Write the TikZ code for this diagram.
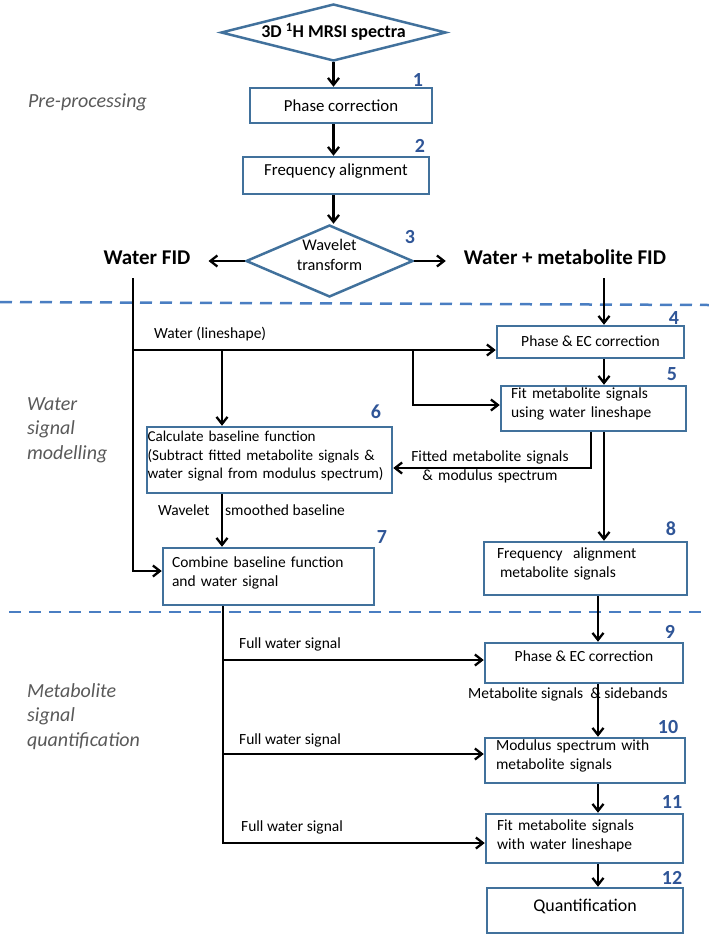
\documentclass[tikz,border=0pt]{standalone}
\usepackage{fontspec}
\setmainfont{Carlito}
\usepackage{xcolor}
\usetikzlibrary{arrows.meta,shapes.geometric}
\definecolor{boxblue}{HTML}{41719C}
\definecolor{numblue}{HTML}{2F5597}
\definecolor{dashblue}{HTML}{4A7EC2}
\definecolor{notegray}{HTML}{595959}

\begin{document}
\begin{tikzpicture}[x=1pt,y=-1pt,line width=2.3pt,>={Straight Barb[length=7pt,width=11pt]},
  box/.style={draw=boxblue,line width=2.5pt,rectangle,inner sep=0pt,font=\fontsize{15.5}{18.5}\selectfont},
  dia/.style={draw=boxblue,line width=2.5pt,diamond,inner sep=0pt},
  num/.style={anchor=base,text=numblue,font=\fontsize{20}{24}\selectfont\bfseries},
  lbl/.style={anchor=base west,inner sep=0pt,font=\fontsize{15.5}{18.5}\selectfont},
  fid/.style={anchor=base,inner xsep=17pt,inner ysep=12pt,font=\fontsize{21}{25}\selectfont\bfseries},
  stage/.style={anchor=base west,inner sep=0pt,text width=140pt,align=left,text=notegray,font=\fontsize{20}{24.5}\selectfont\itshape},
  lift/.style={text height=#1,text depth=0pt},
  drop/.style={text height=0pt,text depth=#1}]
\useasboundingbox (0,0) rectangle (709,938);

\draw[dashblue,line width=2.5pt,dash pattern=on 12pt off 8pt] (0,302) -- (709,305);
\draw[dashblue,line width=2.5pt,dash pattern=on 12pt off 8pt] (9,612) -- (709,612);

\node[dia,aspect=3.9,minimum width=225pt,minimum height=57pt,lift=10.6pt,font=\fontsize{18}{22}\selectfont\bfseries] (d1) at (333.5,32.5) {3D \textsuperscript{1}H MRSI spectra};
  \node[box,minimum width=182pt,minimum height=35pt,lift=11pt,font=\fontsize{16.8}{20}\selectfont] (b1) at (341,105.5) {Phase correction};
  \node[box,minimum width=186pt,minimum height=37pt,drop=1pt,font=\fontsize{16.8}{20}\selectfont] (b2) at (336,175.5) {Frequency alignment};
  \node[dia,aspect=2.3,minimum width=167pt,minimum height=72pt,text width=80pt,align=center,drop=22pt,font=\fontsize{16.3}{20}\selectfont] (d2) at (329.5,261) {Wavelet\\transform};
  \node[fid] (wfid) at (147,264.7) {Water FID};
  \node[fid] (wmfid) at (565,264.7) {Water + metabolite FID};
  \node[box,minimum width=187pt,minimum height=32pt,lift=9.4pt] (b4) at (590.5,342) {Phase \& EC correction};
  \node[box,minimum width=185pt,minimum height=45pt,text width=165pt,align=left,drop=19.6pt] (b5) at (593.5,408.5) {Fit metabolite signals\\using water lineshape};
  \node[box,minimum width=245pt,minimum height=66pt,text width=244pt,align=left,drop=36.6pt,font=\fontsize{15.1}{18.5}\selectfont] (b6) at (269.5,460) {Calculate baseline function\\(Subtract fitted metabolite signals \&\\water signal from modulus spectrum)};
  \node[box,minimum width=211pt,minimum height=57pt,text width=193pt,align=left,drop=17.6pt] (b7) at (268.5,576.5) {Combine baseline function\\and water signal};
  \node[box,minimum width=203pt,minimum height=53pt,text width=177pt,align=left,drop=19.6pt] (b8) at (585.5,568.5) {Frequency\ \ alignment\\\hspace{3pt}metabolite signals};
  \node[box,minimum width=198pt,minimum height=40pt,drop=2.6pt] (b9) at (584,663) {Phase \& EC correction};
  \node[box,minimum width=200pt,minimum height=45pt,text width=178pt,align=left,drop=19.6pt] (b10) at (585,760.5) {Modulus spectrum with\\metabolite signals};
  \node[box,minimum width=197pt,minimum height=49pt,text width=175pt,align=left,drop=15.6pt] (b11) at (584.5,838.5) {Fit metabolite signals\\with water lineshape};
  \node[box,minimum width=196pt,minimum height=45pt,lift=1.8pt,font=\fontsize{17.9}{21}\selectfont] (b12) at (585,910.5) {Quantification};

  \node[num] (n1) at (418,86.5) {1};
  \node[num] (n2) at (420,152.5) {2};
  \node[num] (n3) at (410,243.5) {3};
  \node[num] (n4) at (674,324.5) {4};
  \node[num] (n5) at (672,380.5) {5};
  \node[num] (n6) at (376,418.5) {6};
  \node[num] (n7) at (382,543.5) {7};
  \node[num] (n8) at (671,535.5) {8};
  \node[num] (n9) at (670,638.5) {9};
  \node[num] (n10) at (668,733.5) {10};
  \node[num] (n11) at (672,808.5) {11};
  \node[num] (n12) at (672,884.5) {12};

  \node[stage] (s1) at (27,107) {Pre-processing};
  \node[stage] (s2) at (26,410) {Water\\signal\\modelling};
  \node[stage] (s3) at (26,697) {Metabolite\\signal\\quantification};

  \node[lbl] (l1) at (153,338.7) {Water (lineshape)};
  \node[lbl,anchor=base,text width=170pt,align=center] (l2) at (490,461.7) {Fitted metabolite signals\\\& modulus spectrum};
  \node[lbl] (l3) at (157,515.7) {Wavelet};
  \node[lbl] (l4) at (224,515.7) {smoothed baseline};
  \node[lbl] (l5) at (238,648.7) {Full water signal};
  \node[lbl,anchor=base] (l6) at (568,698.7) {Metabolite signals\ \ \& sidebands};
  \node[lbl] (l7) at (238,744.7) {Full water signal};
  \node[lbl] (l8) at (240,831.7) {Full water signal};

  \coordinate (cw) at (133,350);
  \coordinate (j1) at (222,350);
  \coordinate (j2) at (413,350);
  \coordinate (ca) at (604,0);
  \coordinate (cb) at (598,0);
  \coordinate (ct) at (223,0);
  \coordinate (r9) at ([yshift=3pt]b9.west);
  \coordinate (r10) at ([yshift=6.5pt]b10.west);

  \path[->]
		(d1) edge (d1 |- b1.north)
        (d1 |- b1.south) edge (d1 |- b2.north)
        (d1 |- b2.south) edge (d1 |- d2.north)
        (d2.west) edge (d2.west -| wfid.east)
        (d2.east) edge (d2.east -| wmfid.west)
        (cw) edge (cw -| b4.west)
        (j1) edge (j1 |- b6.north)
        (ca |- wmfid.south) edge (ca |- b4.north)
        (ca |- b4.south) edge (ca |- b5.north)
        (ca |- b5.south) edge (ca |- b8.north)
        (j1 |- b6.south) edge (j1 |- b7.north)
        (cb |- b8.south) edge (cb |- b9.north)
        (cb |- b9.south) edge (cb |- b10.north)
        (cb |- b10.south) edge (cb |- b11.north)
        (cb |- b11.south) edge (cb |- b12.north)
        (ct |- r9) edge (r9)
        (ct |- r10) edge (r10);

  \draw[->] (cw |- wfid.south) |- ([yshift=5.5pt]b7.west);
  \draw[->] (j2) |- ([yshift=3.5pt]b5.west);
  \draw[->] ([xshift=-2.5pt]b5.south) |- ([yshift=-8pt]b6.east);
  \draw[->] (ct |- b7.south) |- ([yshift=-4.5pt]b11.west);
    \end{tikzpicture}
\end{document}
